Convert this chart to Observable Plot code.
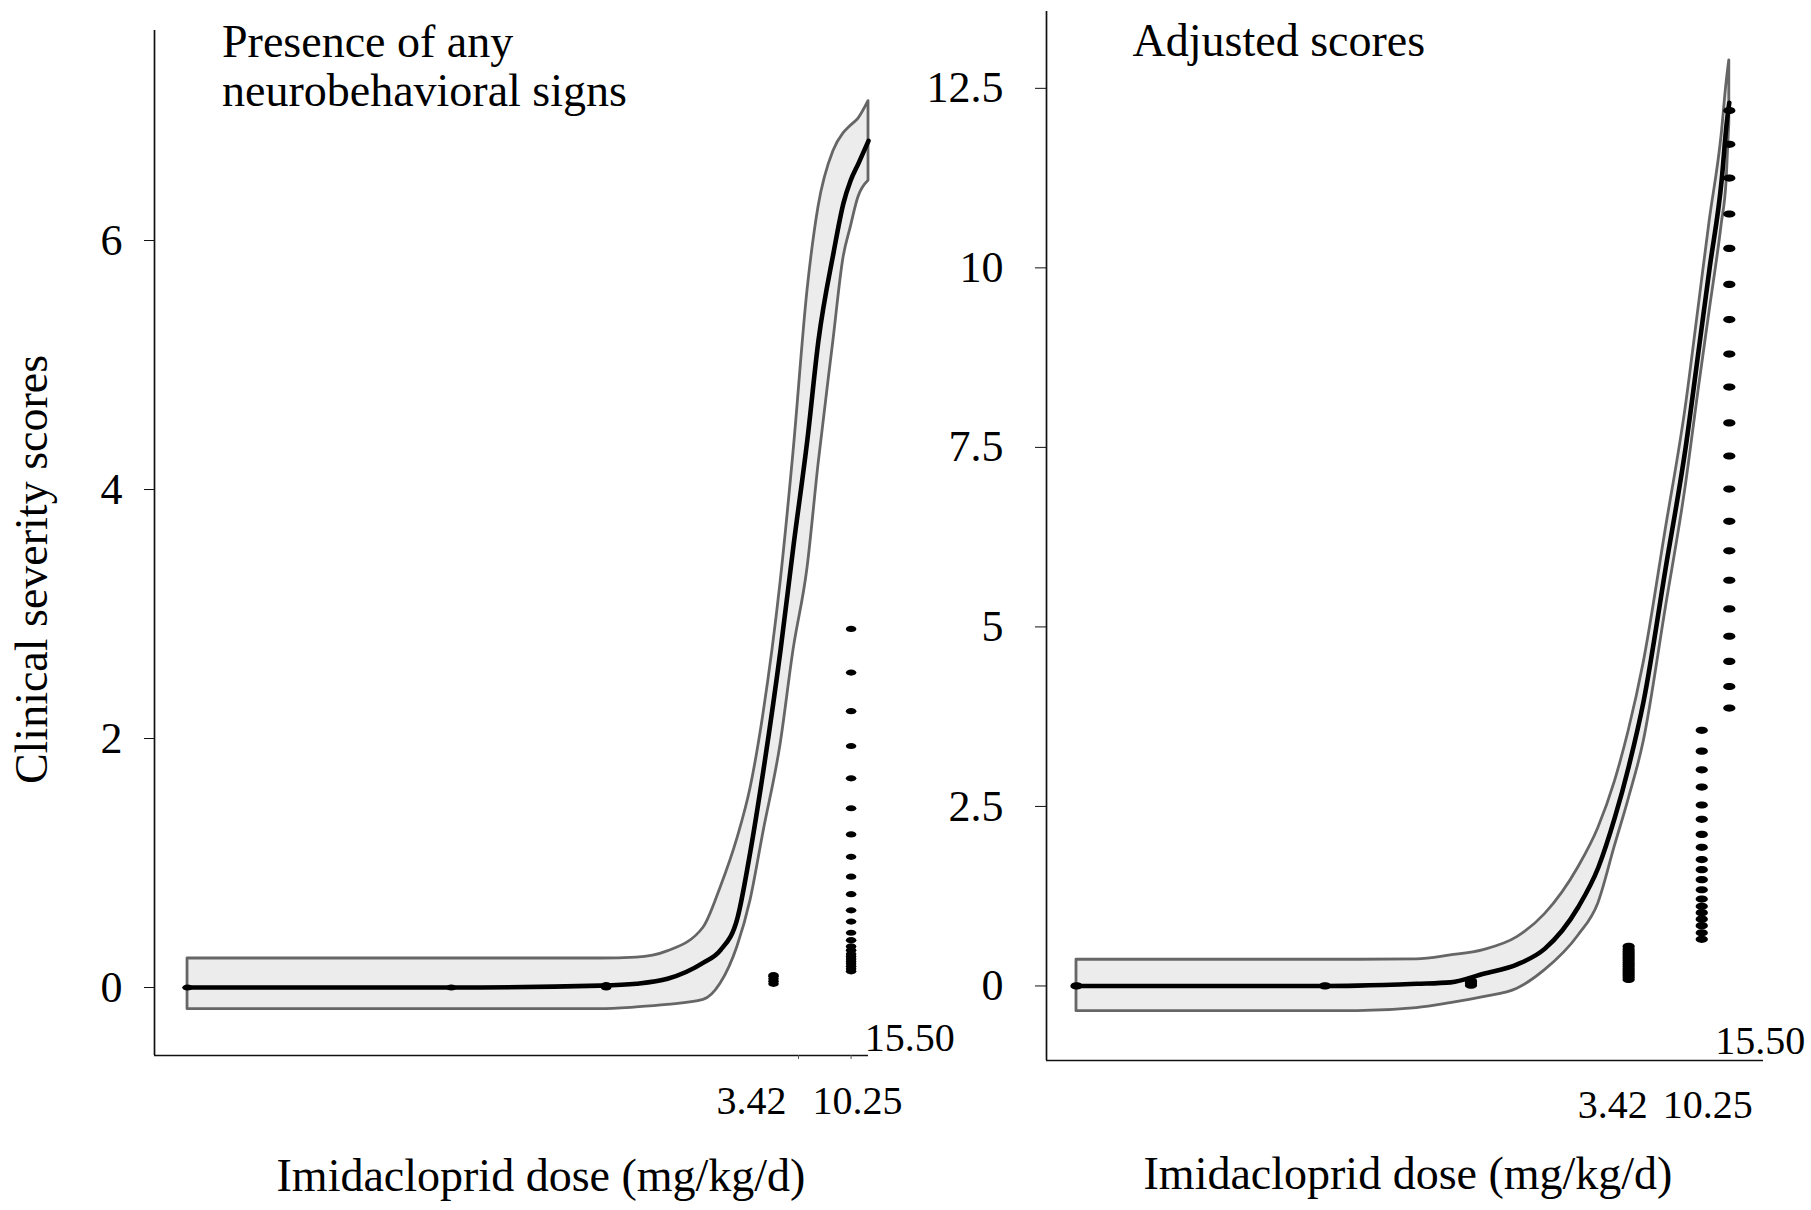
<!DOCTYPE html>
<html>
<head>
<meta charset="utf-8">
<script src="https://cdn.jsdelivr.net/npm/d3@7"></script>
<script src="https://cdn.jsdelivr.net/npm/@observablehq/plot@0.6"></script>
<style>
html, body { margin: 0; padding: 0; background: #ffffff; }
#wrap { position: relative; width: 1811px; height: 1210px; overflow: hidden; }
#wrap svg { position: absolute; top: 0; }
</style>
</head>
<body>
<div id="wrap"></div>
<script>
// ---------- data ----------
const SYMLOG_C = 0.00086;               // symlog constant of the dose axis
const doseGroups = [0, 0.035, 0.32, 3.42, 10.25, 15.5];

const xTickValues = [3.42, 10.25, 15.5];
const xTickLabels = ["3.42", "10.25", "15.50"];

const leftYTicks = [0, 2, 4, 6];
const rightYTicks = [0, 2.5, 5, 7.5, 10, 12.5];

const leftTitle = ["Presence of any", "neurobehavioral signs"];
const rightTitle = "Adjusted scores";
const yTitle = "Clinical severity scores";
const xTitle = "Imidacloprid dose (mg/kg/d)";

// left panel: fitted curve with confidence band
const leftCurveDose = [0, 0.0346, 0.295, 0.492, 0.763, 1.269, 1.615, 2.055, 2.47, 2.969, 3.777, 4.539, 5.533, 6.464, 7.99, 9.202, 10.17, 11.38, 13.11];
const leftFit   = [0, 0, 0.015, 0.03, 0.07, 0.2, 0.3, 0.56, 1.1, 1.75, 2.71, 3.55, 4.41, 5.2, 5.9, 6.3, 6.48, 6.62, 6.8];
const leftUpper = [0.233, 0.233, 0.233, 0.24, 0.29, 0.48, 0.8, 1.2, 1.6, 2.2, 3.25, 4.3, 5.6, 6.27, 6.72, 6.86, 6.92, 6.98, 7.12];
const leftLower = [-0.174, -0.174, -0.174, -0.16, -0.14, -0.1, 0.03, 0.33, 0.7, 1.25, 1.95, 2.71, 3.37, 4.2, 5.2, 5.86, 6.1, 6.35, 6.48];

// left panel: observed scores per dose group (15.50 group lies off this panel)
const leftGroupScores = [
  [0],
  [0],
  [0, 0.02],
  [0.03, 0.05, 0.07, 0.09, 0.1],
  [2.88, 2.53, 2.22, 1.94, 1.68, 1.44, 1.23, 1.05, 0.89, 0.75, 0.62, 0.53, 0.44, 0.38, 0.33, 0.3, 0.27, 0.25, 0.23, 0.21, 0.19, 0.17, 0.15, 0.13],
  []
];

// right panel: fitted curve with confidence band
const rightCurveDose = [0, 0.0353, 0.0576, 0.141, 0.2355, 0.387, 0.642, 0.973, 1.606, 2.169, 2.784, 3.42, 4.286, 5.962, 8.049, 9.781, 11.54, 13.82, 14.9, 15.5];
const rightFit   = [0, 0, 0.005, 0.03, 0.05, 0.17, 0.3, 0.52, 1.1, 1.65, 2.35, 3.05, 3.97, 5.82, 7.5, 8.85, 10.0, 11.22, 12.01, 12.3];
const rightUpper = [0.365, 0.365, 0.365, 0.37, 0.425, 0.5, 0.68, 1.0, 1.65, 2.2, 2.85, 3.55, 4.5, 6.35, 8.05, 9.45, 10.65, 11.85, 12.59, 12.89];
const rightLower = [-0.351, -0.351, -0.351, -0.31, -0.24, -0.156, -0.04, 0.22, 0.7, 1.15, 1.95, 2.6, 3.4, 5.25, 6.95, 8.3, 9.4, 10.6, 11.22, 12.01];

const rightGroupScores = [
  [0],
  [0],
  [0.01, 0.04, 0.07],
  [0.09, 0.12, 0.15, 0.18, 0.21, 0.24, 0.27, 0.3, 0.33, 0.36, 0.39, 0.42, 0.45, 0.48, 0.51, 0.55],
  [3.56, 3.27, 3.01, 2.77, 2.52, 2.32, 2.11, 1.93, 1.76, 1.62, 1.48, 1.34, 1.21, 1.11, 1.02, 0.93, 0.84, 0.74, 0.65],
  [12.19, 11.72, 11.25, 10.75, 10.27, 9.77, 9.28, 8.8, 8.34, 7.84, 7.38, 6.92, 6.47, 6.06, 5.65, 5.25, 4.87, 4.52, 4.17, 3.87]
];

// ---------- helpers ----------
const FONT = "'Liberation Serif', 'Times New Roman', serif";

// horizontally stretched dot, as in the reference picture
function ellipseSymbol(ratio) {
  return {
    draw(ctx, size) {
      const r = Math.sqrt(size / Math.PI);
      const rx = r * ratio, ry = r, k = 0.5523;
      ctx.moveTo(rx, 0);
      ctx.bezierCurveTo(rx, k * ry, k * rx, ry, 0, ry);
      ctx.bezierCurveTo(-k * rx, ry, -rx, k * ry, -rx, 0);
      ctx.bezierCurveTo(-rx, -k * ry, -k * rx, -ry, 0, -ry);
      ctx.bezierCurveTo(k * rx, -ry, rx, -k * ry, rx, 0);
      ctx.closePath();
    }
  };
}

function buildBand(dose, fit, lo, hi) {
  return dose.map((d, i) => ({dose: d, fit: fit[i], lo: lo[i], hi: hi[i]}));
}
function buildPoints(groupScores) {
  const out = [];
  groupScores.forEach((scores, gi) => scores.forEach(s => out.push({dose: doseGroups[gi], score: s})));
  return out;
}

function panel(o) {
  const band = buildBand(o.curveDose, o.fit, o.lower, o.upper);
  const pts = buildPoints(o.groupScores);
  const marks = [
    Plot.areaY(band, {x: "dose", y1: "lo", y2: "hi", fill: "#ececec", stroke: "#666", strokeWidth: 2.8, curve: "monotone-x"}),
    Plot.line(band, {x: "dose", y: "fit", stroke: "#000", strokeWidth: 4.6, curve: "monotone-x"}),
    Plot.dot(pts, {x: "dose", y: "score", r: o.rDot, symbol: ellipseSymbol(1.7), fill: "#000", stroke: "none"}),
    Plot.ruleX([o.xDomain[0]], {stroke: "#111", strokeWidth: 1.7}),
    Plot.ruleY([o.yDomain[0]], {stroke: "#111", strokeWidth: 1.7}),
    Plot.axisY({ticks: o.yTicks, tickSize: o.tickSize, tickPadding: o.tickPadding, tickFormat: d => String(d), label: null, fontSize: 44, stroke: "#111"}),
    // x tick labels, placed as in the original figure
    Plot.text([xTickValues[0]], {x: d => d, text: () => xTickLabels[0], frameAnchor: "bottom", lineAnchor: "middle", textAnchor: "middle", dx: o.lab0dx, dy: o.labDy, fontSize: 40}),
    Plot.text([xTickValues[1]], {x: d => d, text: () => xTickLabels[1], frameAnchor: "bottom", lineAnchor: "middle", textAnchor: "middle", dx: o.lab1dx, dy: o.labDy, fontSize: 40}),
    Plot.text([xTickValues[2]], {x: d => d, text: () => xTickLabels[2], frameAnchor: "bottom", lineAnchor: "middle", textAnchor: "start", dx: o.lab2dx, dy: o.lab2dy, fontSize: 40})
  ];
  if (o.showXTicks) {
    marks.push(Plot.axisX({ticks: [xTickValues[0]], tickSize: 4, tickFormat: () => "", label: null, dx: 25, stroke: "#555"}));
    marks.push(Plot.axisX({ticks: [xTickValues[1]], tickSize: 4, tickFormat: () => "", label: null, stroke: "#555"}));
  }
  const svg = Plot.plot({
    width: o.width,
    height: 1210,
    marginLeft: o.marginLeft,
    marginRight: o.marginRight,
    marginTop: o.marginTop,
    marginBottom: o.marginBottom,
    style: {background: "transparent", fontFamily: FONT, fontSize: "44px", color: "#000", overflow: "visible"},
    x: {type: "symlog", constant: SYMLOG_C, domain: o.xDomain, axis: null},
    y: {domain: o.yDomain, axis: null},
    marks
  });
  svg.style.left = o.left + "px";
  return svg;
}

const wrap = document.getElementById("wrap");

// ---------- left panel ----------
const leftSvg = panel({
  left: 0, width: 970, marginLeft: 154, marginRight: 102, marginTop: 30, marginBottom: 155,
  xDomain: [-0.000512, 13.11], yDomain: [-0.546, 7.687], yTicks: leftYTicks,
  curveDose: leftCurveDose, fit: leftFit, lower: leftLower, upper: leftUpper,
  groupScores: leftGroupScores, rDot: 3.1, tickSize: 10, tickPadding: 22,
  lab0dx: -22, lab1dx: 6.5, lab2dx: -15.5, labDy: 45.2, lab2dy: -17.8, showXTicks: true
});
wrap.appendChild(leftSvg);

// ---------- right panel ----------
const rightSvg = panel({
  left: 880, width: 931, marginLeft: 166, marginRight: 48, marginTop: 11, marginBottom: 150,
  xDomain: [-0.000489, 25.9], yDomain: [-1.038, 13.57], yTicks: rightYTicks,
  curveDose: rightCurveDose, fit: rightFit, lower: rightLower, upper: rightUpper,
  groupScores: rightGroupScores, rDot: 3.6, tickSize: 11, tickPadding: 32,
  lab0dx: -16, lab1dx: 6, lab2dx: -14, labDy: 44.2, lab2dy: -19.8, showXTicks: false
});
wrap.appendChild(rightSvg);

// ---------- titles ----------
function addText(svg, txt, x, y, opts = {}) {
  const t = d3.select(svg).append("text")
    .attr("x", x).attr("y", y)
    .attr("font-family", FONT)
    .attr("font-size", opts.size || 46)
    .attr("fill", "#000")
    .attr("text-anchor", opts.anchor || "start")
    .text(txt);
  if (opts.rotate) t.attr("transform", `rotate(${opts.rotate},${x},${y})`);
  return t;
}
addText(leftSvg, leftTitle[0], 222, 57);
addText(leftSvg, leftTitle[1], 222, 106);
addText(leftSvg, yTitle, 47, 569.5, {anchor: "middle", rotate: -90});
addText(leftSvg, xTitle, 541, 1191, {anchor: "middle"});
addText(rightSvg, rightTitle, 252.6, 55.5);
addText(rightSvg, xTitle, 528, 1189, {anchor: "middle"});
</script>
</body>
</html>
